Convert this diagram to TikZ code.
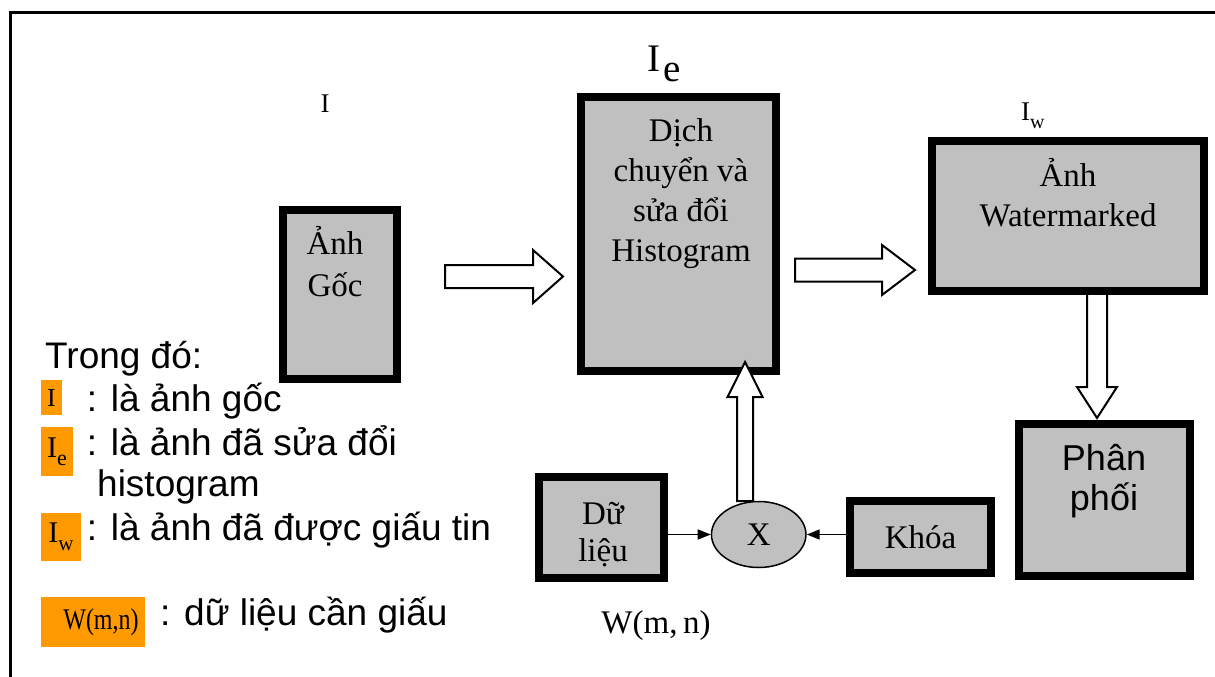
\documentclass[tikz,border=0pt]{standalone}
\usepackage{fontspec}
\setmainfont{Liberation Serif}
\newfontfamily\arialf{Liberation Sans}
\usetikzlibrary{shapes.geometric,arrows.meta}
\definecolor{boxgray}{RGB}{192,192,192}
\definecolor{legorange}{RGB}{255,153,0}
\begin{document}
\begin{tikzpicture}[x=1pt,y=-1pt,
  box/.style={draw=black,fill=boxgray,line width=7.5pt,rectangle,inner sep=0pt},
  boxtext/.style={align=center,anchor=base,inner sep=0pt,font=\fontsize{33}{40}\selectfont},
  sanstext/.style={align=center,anchor=base,inner sep=0pt,font=\arialf\fontsize{36}{40}\selectfont},
  barrow/.style={draw=black,fill=white,line width=2pt,line join=miter},
  thinarrow/.style={line width=1.5pt,-{Triangle[length=13pt,width=10pt]}},
  legtext/.style={anchor=base west,inner sep=0pt,font=\arialf\fontsize{37}{43}\selectfont},
  legbox/.style={fill=legorange,inner sep=0pt},
  lbl/.style={inner sep=0pt,anchor=base west}]
\useasboundingbox (0,0) rectangle (1215,677);
\fill[white] (0,0) rectangle (1215,677);
% frame
\draw[line width=2.2pt] (10.5,677) -- (10.5,12.5) -- (1215,12.5);

% block arrows drawn under boxes
\coordinate (a1s) at (445,276.5);
\coordinate (a1t) at (563,276.5);
\draw[barrow] (a1s) ++(0,-11.5) -- ++(88,0) -- ++(0,-15) -- (a1t) -- ++(-30,26.5) -- ++(0,-15) -- ++(-88,0) -- cycle;
\coordinate (a2s) at (795,270);
\coordinate (a2t) at (915,270);
\draw[barrow] (a2s) ++(0,-11.5) -- ++(87,0) -- ++(0,-13.5) -- (a2t) -- ++(-33,25) -- ++(0,-13.5) -- ++(-87,0) -- cycle;
\coordinate (a3s) at (1097,292);
\coordinate (a3t) at (1097,418);
\draw[barrow] (a3s) ++(-10,0) -- ++(0,95) -- ++(-10,0) -- (a3t) -- ++(20,-31) -- ++(-10,0) -- ++(0,-95) -- cycle;

% boxes
\node[box,minimum width=114pt,minimum height=169pt] (goc) at (340,294.5) {};
\node[box,minimum width=195pt,minimum height=274pt] (dich) at (678.5,234) {};
\node[box,minimum width=272pt,minimum height=150pt] (wm) at (1068,216) {};
\node[box,minimum width=171pt,minimum height=152pt] (pp) at (1104.5,500) {};
\node[box,minimum width=125pt,minimum height=101pt] (du) at (601.5,527.5) {};
\node[box,minimum width=141pt,minimum height=72pt,font=\fontsize{33}{40}\selectfont] (khoa) at (920.5,537) {Khóa};

% box texts (base anchor = last line's baseline)
\node[boxtext,font=\fontsize{33}{42}\selectfont] (gocT) at (335,296.7) {Ảnh\\Gốc};
\node[boxtext] (dichT) at (681,261.7) {Dịch\\chuyển và\\sửa đổi\\Histogram};
\node[boxtext] (wmT) at (1068,226.7) {Ảnh\\Watermarked};
\node[sanstext] (ppT) at (1104,510) {Phân\\phối};
\node[boxtext,font=\fontsize{33}{37}\selectfont] (duT) at (603,561) {Dữ\\liệu};

% up arrow from X to dich (over dich border)
\coordinate (a4s) at (745,501);
\coordinate (a4t) at (745,362);
\draw[barrow] (a4s) ++(-8,0) -- ++(0,-104) -- ++(-9.5,0) -- (a4t) -- ++(17.5,35) -- ++(-9.5,0) -- ++(0,104) -- cycle;

% ellipse X
\node[ellipse,draw=black,fill=boxgray,line width=1.5pt,minimum width=94.5pt,minimum height=66pt,inner sep=0pt,font=\fontsize{33}{40}\selectfont] (X) at (758.7,534.5) {\raisebox{-5pt}{X}};

\draw[thinarrow] (X.west -| du.east) -- (X.west);
\draw[thinarrow] (X.east -| khoa.west) -- (X.east);

% labels
\node[inner sep=0pt,anchor=base,font=\fontsize{27}{27}\selectfont] (lI) at (325,112) {I};
\node[lbl,font=\fontsize{39}{39}\selectfont] (lIe) at (647.5,71.7) {I\kern3pt\raisebox{-10pt}{e}};
\node[lbl,font=\fontsize{27}{27}\selectfont] (lIw) at (1021,120) {I\raisebox{-8pt}{\fontsize{20}{20}\selectfont w}};
\node[inner sep=0pt,anchor=base,font=\fontsize{33}{33}\selectfont] (lW) at (656,633.3) {W(m,\,n)};

% legend
\node[legtext] (t0) at (45,368) {Trong đó:};
\node[legbox,minimum width=21pt,minimum height=35pt,font=\fontsize{26}{26}\selectfont] (kI) at (51.5,397.5) {I};
\node[legtext] (t1) at (86.7,411.7) {: là ảnh gốc};
\node[legbox,minimum width=32pt,minimum height=49pt,font=\fontsize{30}{30}\selectfont] (kIe) at (57,451.5) {I\raisebox{-8pt}{\fontsize{22}{22}\selectfont e}};
\node[legtext] (t2) at (86.7,455) {: là ảnh đã sửa đổi};
\node[legtext] (t3) at (97,496.7) {histogram};
\node[legbox,minimum width=40pt,minimum height=48pt,font=\fontsize{30}{30}\selectfont] (kIw) at (61,537) {I\raisebox{-8pt}{\fontsize{21}{21}\selectfont w}};
\node[legtext] (t4) at (86.7,540.7) {: là ảnh đã được giấu tin};
\node[legbox,minimum width=104pt,minimum height=50pt] (kW) at (93,622) {};
\node[inner sep=0pt,font=\fontsize{30}{30}\selectfont] (kWt) at (101,622) {\scalebox{0.8}[1]{W(m,n)}};
\node[legtext] (t5) at (160,625) {: dữ liệu cần giấu};
\end{tikzpicture}
\end{document}
